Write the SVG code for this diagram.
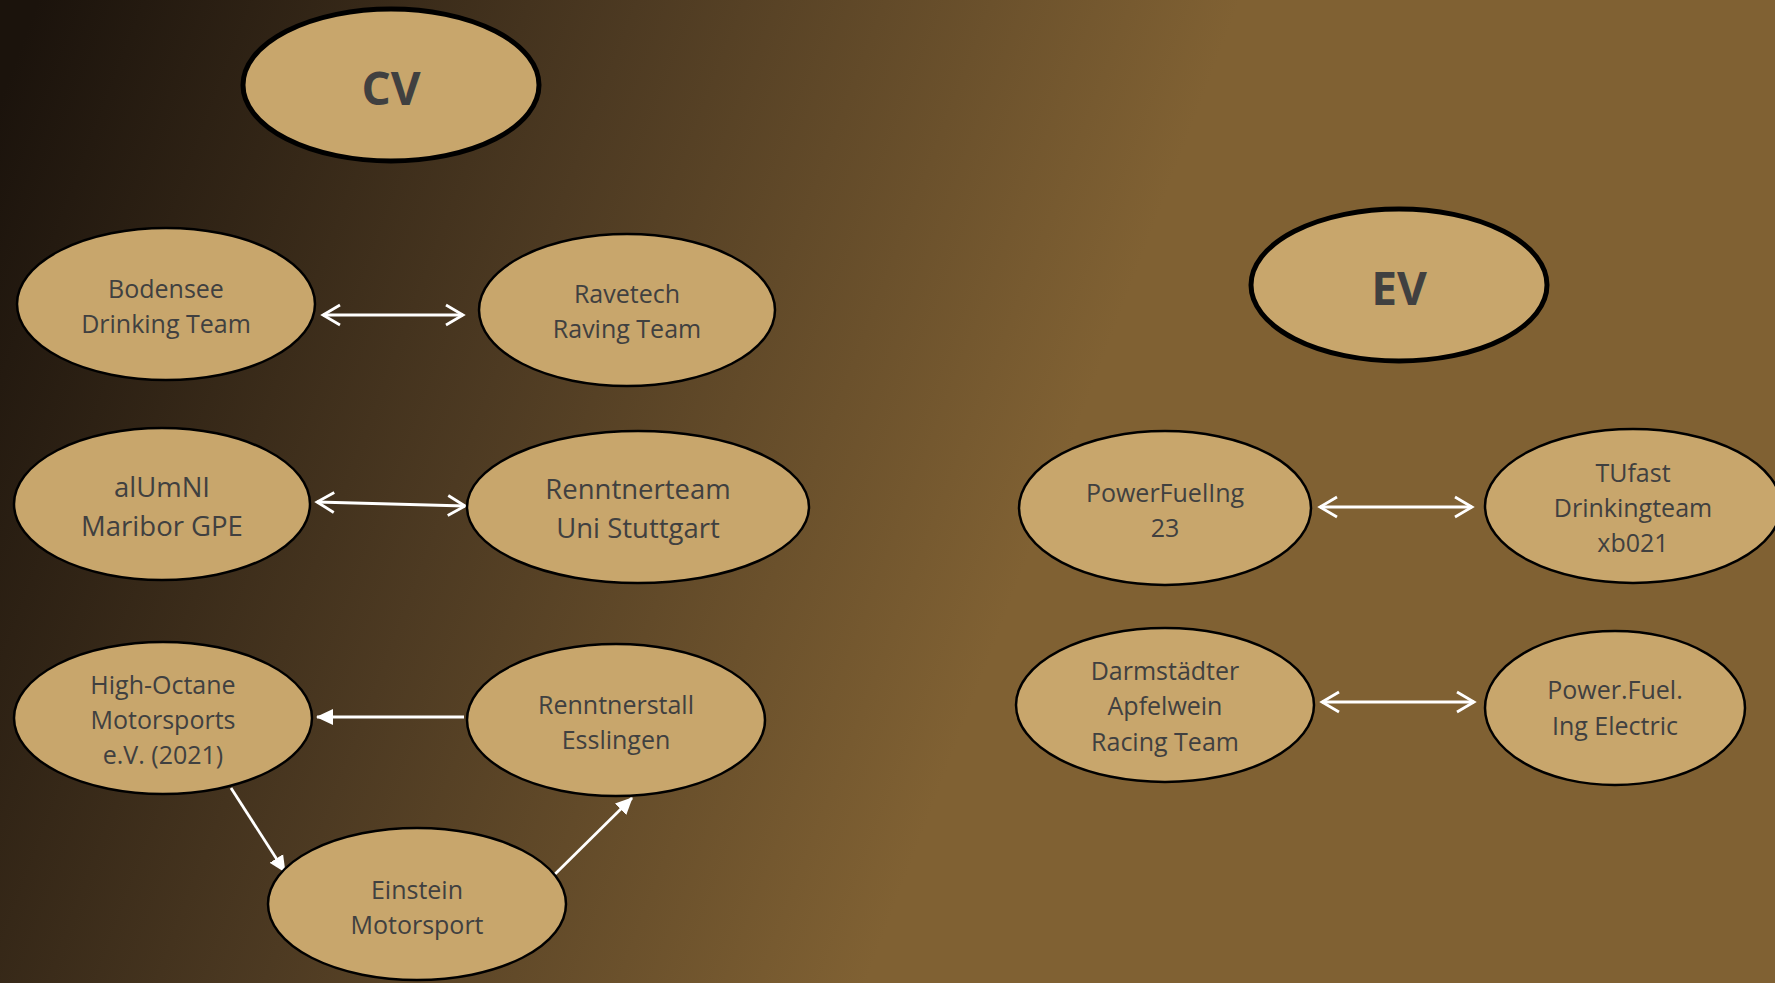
<svg xmlns="http://www.w3.org/2000/svg" width="1775" height="983" viewBox="0 0 1775 983">
<defs>
<linearGradient id="bg" gradientUnits="userSpaceOnUse" x1="0" y1="100" x2="1050" y2="500">
<stop offset="0" stop-color="#1b130c"/>
<stop offset="0.5" stop-color="#4d3a22"/>
<stop offset="1" stop-color="#806133"/>
</linearGradient>
<marker id="open" viewBox="0 0 24 24" refX="20" refY="12" markerWidth="24" markerHeight="24" markerUnits="userSpaceOnUse" orient="auto-start-reverse">
<path d="M3,2 L20,12 L3,22" fill="none" stroke="#ffffff" stroke-width="2.8"/>
</marker>
<marker id="solid" viewBox="0 0 18 18" refX="16" refY="9" markerWidth="18" markerHeight="18" markerUnits="userSpaceOnUse" orient="auto">
<path d="M0,1 L17,9 L0,17 Z" fill="#ffffff"/>
</marker>
</defs>
<style>
.n{fill:#c8a66c;stroke:#000;stroke-width:2.5}
.h{fill:#c8a66c;stroke:#000;stroke-width:5}
.t{font-family:"Open Sans","Noto Sans",sans-serif;font-size:25px;fill:#404040;text-anchor:middle;dominant-baseline:central}
.tl{font-size:27.5px}
.tb{font-family:"Open Sans","Noto Sans",sans-serif;font-size:46px;font-weight:bold;fill:#404040;text-anchor:middle;dominant-baseline:central}
.c{stroke:#fff;stroke-width:2.8;fill:none}
.d{marker-start:url(#open);marker-end:url(#open)}
.s{marker-end:url(#solid)}
</style>
<rect width="1775" height="983" fill="url(#bg)"/>
<g id="connectors">
<line class="c d" x1="323" y1="315" x2="463" y2="315"/>
<line class="c d" x1="317" y1="502" x2="465" y2="506"/>
<line class="c s" x1="464" y1="717" x2="317" y2="717"/>
<line class="c s" x1="231" y1="788" x2="285" y2="872"/>
<line class="c s" x1="547" y1="882" x2="632" y2="798"/>
<line class="c d" x1="1320" y1="507" x2="1472" y2="507"/>
<line class="c d" x1="1322" y1="702" x2="1474" y2="702"/>
</g>
<g id="cv"><ellipse class="h" cx="391" cy="85" rx="148" ry="76"/><text class="tb" x="391" y="87">CV</text></g>
<g id="bodensee"><ellipse class="n" cx="166" cy="304" rx="149" ry="76"/><text class="t" x="166" y="288">Bodensee</text><text class="t" x="166" y="323">Drinking Team</text></g>
<g id="ravetech"><ellipse class="n" cx="627" cy="310" rx="148" ry="76"/><text class="t" x="627" y="293">Ravetech</text><text class="t" x="627" y="328">Raving Team</text></g>
<g id="alumni"><ellipse class="n" cx="162" cy="504" rx="148" ry="76"/><text class="t tl" x="162" y="486">alUmNI</text><text class="t tl" x="162" y="525">Maribor GPE</text></g>
<g id="renntnerteam"><ellipse class="n" cx="638" cy="507" rx="171" ry="76"/><text class="t tl" x="638" y="488">Renntnerteam</text><text class="t tl" x="638" y="527">Uni Stuttgart</text></g>
<g id="highoctane"><ellipse class="n" cx="163" cy="718" rx="149" ry="76"/><text class="t" x="163" y="684">High-Octane</text><text class="t" x="163" y="719">Motorsports</text><text class="t" x="163" y="754">e.V. (2021)</text></g>
<g id="renntnerstall"><ellipse class="n" cx="616" cy="720" rx="149" ry="76"/><text class="t" x="616" y="704">Renntnerstall</text><text class="t" x="616" y="739">Esslingen</text></g>
<g id="einstein"><ellipse class="n" cx="417" cy="904" rx="149" ry="76"/><text class="t" x="417" y="889">Einstein</text><text class="t" x="417" y="924">Motorsport</text></g>
<g id="ev"><ellipse class="h" cx="1399" cy="285" rx="148" ry="76"/><text class="tb" x="1399" y="287">EV</text></g>
<g id="powerfueling"><ellipse class="n" cx="1165" cy="508" rx="146" ry="77"/><text class="t" x="1165" y="492">PowerFuelIng</text><text class="t" x="1165" y="527">23</text></g>
<g id="tufast"><ellipse class="n" cx="1633" cy="506" rx="148" ry="77"/><text class="t" x="1633" y="472">TUfast</text><text class="t" x="1633" y="507">Drinkingteam</text><text class="t" x="1633" y="542">xb021</text></g>
<g id="darmstaedter"><ellipse class="n" cx="1165" cy="705" rx="149" ry="77"/><text class="t" x="1165" y="670">Darmstädter</text><text class="t" x="1165" y="705">Apfelwein</text><text class="t" x="1165" y="741">Racing Team</text></g>
<g id="powerfuel"><ellipse class="n" cx="1615" cy="708" rx="130" ry="77"/><text class="t" x="1615" y="689">Power.Fuel.</text><text class="t" x="1615" y="725">Ing Electric</text></g>
</svg>
